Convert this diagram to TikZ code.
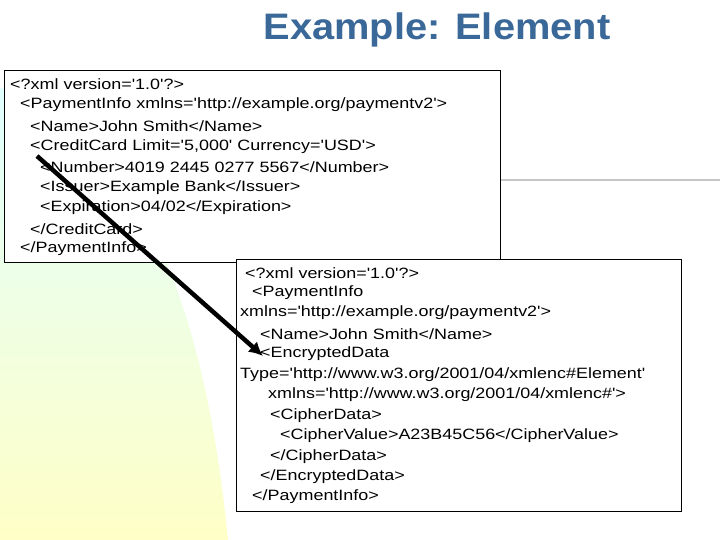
\documentclass[tikz,border=0pt]{standalone}
\usepackage{fontspec}
\setmainfont{Liberation Sans}
\usetikzlibrary{arrows.meta}
\newcommand\q{\textquotesingle}
\begin{document}
\begin{tikzpicture}[x=1bp,y=-1bp,
  xl/.style={anchor=west,inner sep=0pt,xscale=1.2,transform shape,font=\fontsize{15}{15}\selectfont},
  box/.style={draw=black,fill=white,line width=0.8pt}]
\useasboundingbox (0,0) rectangle (720,540);
\shade[top color=cyan!12,bottom color=yellow!22,draw=none]
  (0,88) .. controls (110,120) and (200,250) .. (228,540) -- (0,540) -- cycle;
\draw[gray!45,line width=2pt] (500,180) -- (720,180);
\node[font=\fontsize{37}{37}\bfseries\selectfont,anchor=center,xscale=1.08,transform shape] (title) at (437,30) {\color[HTML]{3A6898}Example: Element};
\draw[box] (4,70) rectangle (500,262);
\node[xl] (l1) at (10,84) {<?xml version=\q1.0\q?>};
\node[xl] (l2) at (20,105) {<PaymentInfo xmlns=\q http://example.org/paymentv2\q>};
\node[xl] (l3) at (30,126) {<Name>John Smith</Name>};
\node[xl] (l4) at (30,147) {<CreditCard Limit=\q5,000\q{} Currency=\q USD\q>};
\node[xl] (l5) at (40,167) {<Number>4019 2445 0277 5567</Number>};
\node[xl] (l6) at (40,188) {<Issuer>Example Bank</Issuer>};
\node[xl] (l7) at (40,208) {<Expiration>04/02</Expiration>};
\node[xl] (l8) at (30,229) {</CreditCard>};
\node[xl] (l9) at (20,249) {</PaymentInfo>};
\draw[box] (236,259) rectangle (681,511);
\node[xl] (m1) at (245,273) {<?xml version=\q1.0\q?>};
\node[xl] (m2) at (252,293) {<PaymentInfo};
\node[xl] (m3) at (240,313) {xmlns=\q http://example.org/paymentv2\q>};
\node[xl] (m4) at (260,334) {<Name>John Smith</Name>};
\node[xl] (m5) at (260,354) {<EncryptedData};
\node[xl] (m6) at (240,375) {Type=\q http://www.w3.org/2001/04/xmlenc\#Element\q};
\node[xl] (m7) at (268,395) {xmlns=\q http://www.w3.org/2001/04/xmlenc\#\q>};
\node[xl] (m8) at (270,416) {<CipherData>};
\node[xl] (m9) at (280,436) {<CipherValue>A23B45C56</CipherValue>};
\node[xl] (m10) at (270,457) {</CipherData>};
\node[xl] (m11) at (260,477) {</EncryptedData>};
\node[xl] (m12) at (252,497) {</PaymentInfo>};
\coordinate (as) at (37,156);
\coordinate (ae) at (263,356);
\draw[line width=4.5pt,-{Latex[length=14pt,width=14pt]}] (as) -- (ae);
\end{tikzpicture}
\end{document}
